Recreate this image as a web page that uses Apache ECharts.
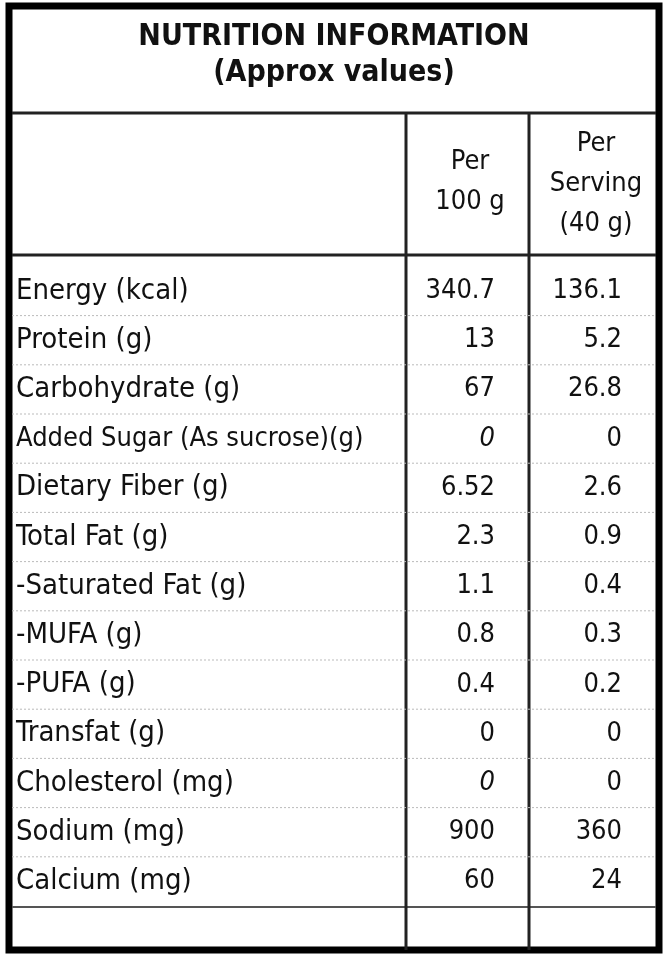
<!DOCTYPE html>
<html><head><meta charset="utf-8">
<script src="https://cdn.jsdelivr.net/npm/echarts@6/dist/echarts.min.js"></script>
<style>html,body{margin:0;padding:0;background:#fff}#c{width:667px;height:963px}</style>
</head><body><div id="c"></div>
<script>
var titleLines = ['NUTRITION INFORMATION', '(Approx values)'];
var colHeads = [['Per', '100 g'], ['Per', 'Serving', '(40 g)']];
var nutrients = ['Energy (kcal)', 'Protein (g)', 'Carbohydrate (g)', 'Added Sugar (As sucrose)(g)',
  'Dietary Fiber (g)', 'Total Fat (g)', '-Saturated Fat (g)', '-MUFA (g)', '-PUFA (g)',
  'Transfat (g)', 'Cholesterol (mg)', 'Sodium (mg)', 'Calcium (mg)'];
var per100 = ['340.7', '13', '67', '0', '6.52', '2.3', '1.1', '0.8', '0.4', '0', '0', '900', '60'];
var perServing = ['136.1', '5.2', '26.8', '0', '2.6', '0.9', '0.4', '0.3', '0.2', '0', '0', '360', '24'];
var italicRows = [3, 10];

var chart = echarts.init(document.getElementById('c'));
var font = '"DejaVu Sans Condensed", "DejaVu Sans", sans-serif';
var g = [];
// frame and grid lines
g.push({type: 'rect', shape: {x: 9, y: 6, width: 650, height: 944}, style: {fill: 'none', stroke: '#000', lineWidth: 7}});
g.push({type: 'line', shape: {x1: 12, y1: 113, x2: 656, y2: 113}, style: {stroke: '#222', lineWidth: 3}});
g.push({type: 'line', shape: {x1: 12, y1: 255, x2: 656, y2: 255}, style: {stroke: '#222', lineWidth: 3}});
g.push({type: 'line', shape: {x1: 12, y1: 907, x2: 656, y2: 907}, style: {stroke: '#555', lineWidth: 2}});
g.push({type: 'line', shape: {x1: 406, y1: 113, x2: 406, y2: 950}, style: {stroke: '#222', lineWidth: 3}});
g.push({type: 'line', shape: {x1: 529, y1: 113, x2: 529, y2: 950}, style: {stroke: '#222', lineWidth: 3}});

titleLines.forEach(function (t, i) {
  g.push({type: 'text', x: 334, y: 37 + i * 36, style: {text: t, font: 'bold 30px ' + font, fill: '#111', align: 'center', verticalAlign: 'middle'}});
});
var headX = [470, 596];
colHeads.forEach(function (lines, c) {
  var y0 = c === 0 ? 162 : 144;
  lines.forEach(function (t, i) {
    g.push({type: 'text', x: headX[c], y: y0 + i * 40, style: {text: t, font: '27px ' + font, fill: '#111', align: 'center', verticalAlign: 'middle'}});
  });
});

nutrients.forEach(function (n, i) {
  var y = 291 + i * 49.2;
  var it = italicRows.indexOf(i) >= 0 ? 'italic ' : '';
  g.push({type: 'text', x: 16, y: y, style: {text: n, font: (i === 3 ? '27px ' : '29px ') + font, fill: '#111', verticalAlign: 'middle'}});
  g.push({type: 'text', x: 495, y: y, style: {text: per100[i], font: it + '27px ' + font, fill: '#111', align: 'right', verticalAlign: 'middle'}});
  g.push({type: 'text', x: 622, y: y, style: {text: perServing[i], font: '27px ' + font, fill: '#111', align: 'right', verticalAlign: 'middle'}});
  if (i > 0) {
    g.push({type: 'line', shape: {x1: 12, y1: y - 24.6, x2: 656, y2: y - 24.6}, style: {stroke: '#bbb', lineWidth: 1, lineDash: [2, 2]}});
  }
});

chart.setOption({backgroundColor: '#fff', graphic: g});
</script></body></html>
